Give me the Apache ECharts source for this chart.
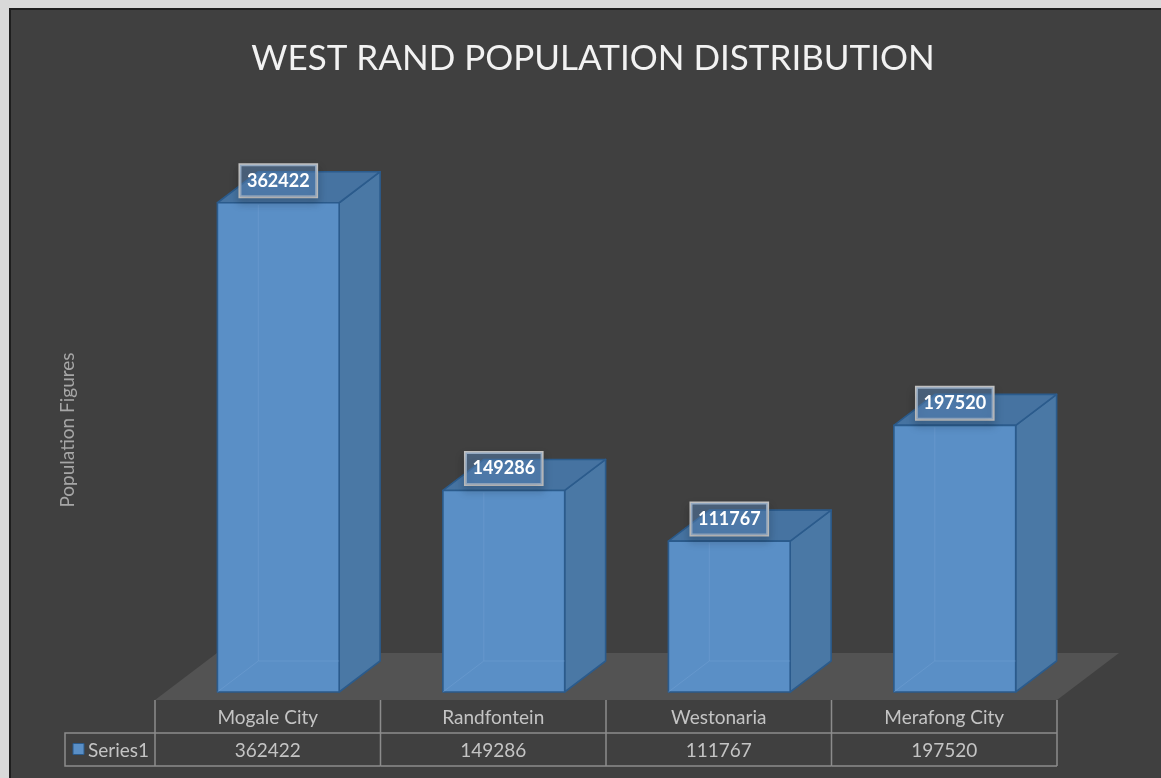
<!DOCTYPE html>
<html>
<head>
<meta charset="utf-8">
<script src="https://cdn.jsdelivr.net/npm/echarts@6/dist/echarts.min.js"></script>
<style>
  html, body { margin: 0; padding: 0; background: #d9d9d9; }
  #chart { width: 1161px; height: 778px; }
</style>
</head>
<body>
<div id="chart"></div>
<script>
// ---- data ----
const categories = ['Mogale City', 'Randfontein', 'Westonaria', 'Merafong City'];
const population = [362422, 149286, 111767, 197520];
const seriesName = 'Series1';
const chartTitle = 'WEST RAND POPULATION DISTRIBUTION';
const axisTitle = 'Population Figures';

// ---- 3D look ----
const DEPTH = { dx: 62, dy: -47 };      // floor depth vector (px)
const COL_FRONT = 0.17, COL_BACK = 0.83; // column placement inside the floor depth
const BAR_RATIO = 0.54;                  // column width / category band
const ROW_H = 33;                        // data table row height
const LEGEND_W = 90;                     // legend key column width

const FONT = 'Lato, "Open Sans", sans-serif';
const COLORS = {
  front: '#5a8fc6',
  side: '#4a78a5',
  top: '#4673a1',
  edge: '#2b5b8c',
  hidden: 'rgba(120,165,215,0.4)',
  floor: '#535353',
  grid: '#8c8c8c',
  text: '#c4c4c4'
};

const chart = echarts.init(document.getElementById('chart'));

function renderFloor(params, api) {
  const cs = params.coordSys;
  const y0 = cs.y + cs.height;
  return {
    type: 'polygon',
    shape: { points: [
      [cs.x, y0], [cs.x + cs.width, y0],
      [cs.x + cs.width + DEPTH.dx, y0 + DEPTH.dy], [cs.x + DEPTH.dx, y0 + DEPTH.dy]
    ] },
    style: { fill: COLORS.floor }
  };
}

function renderColumn(params, api) {
  const i = api.value(0);
  const v = api.value(1);
  const base = api.coord([i, 0]);
  const top = api.coord([i, v]);
  const band = api.size([1, 0])[0];
  const w = band * BAR_RATIO;
  const fx = DEPTH.dx * COL_FRONT, fy = DEPTH.dy * COL_FRONT;
  const dx = DEPTH.dx * (COL_BACK - COL_FRONT), dy = DEPTH.dy * (COL_BACK - COL_FRONT);
  const xl = base[0] - w / 2 + fx, xr = base[0] + w / 2 + fx;
  const yb = base[1] + fy, yt = top[1] + fy;
  const edge = { stroke: COLORS.edge, lineWidth: 1.6, lineJoin: 'round' };
  return {
    type: 'group',
    children: [
      { type: 'polygon', shape: { points: [[xr, yt], [xr + dx, yt + dy], [xr + dx, yb + dy], [xr, yb]] },
        style: Object.assign({ fill: COLORS.side }, edge) },
      { type: 'polygon', shape: { points: [[xl, yt], [xr, yt], [xr + dx, yt + dy], [xl + dx, yt + dy]] },
        style: Object.assign({ fill: COLORS.top }, edge) },
      { type: 'rect', shape: { x: xl, y: yt, width: w, height: yb - yt },
        style: Object.assign({ fill: COLORS.front }, edge) },
      // edges seen through the translucent column
      { type: 'polyline', shape: { points: [[xl, yb], [xl + dx, yb + dy], [xr, yb + dy]] },
        style: { stroke: COLORS.hidden, lineWidth: 1, fill: null } },
      { type: 'line', shape: { x1: xl + dx, y1: yb + dy, x2: xl + dx, y2: yt + 2 },
        style: { stroke: COLORS.hidden, lineWidth: 1 } },
      { type: 'text',
        style: {
          x: (xl + xr) / 2, y: yt - 22,
          text: String(v),
          align: 'center', verticalAlign: 'middle',
          font: 'bold 18px ' + FONT,
          fill: '#ffffff',
          backgroundColor: 'rgba(95,145,200,0.45)',
          borderColor: '#c2c2c2', borderWidth: 1.5,
          padding: [8, 7, 6, 7],
          shadowBlur: 8, shadowColor: 'rgba(0,0,0,0.25)', shadowOffsetY: 5
        } }
    ]
  };
}

function renderTable(params, api) {
  const cs = params.coordSys;
  const i = api.value(0);
  const v = api.value(1);
  const band = api.size([1, 0])[0];
  const x0 = cs.x + i * band, x1 = x0 + band;
  const y0 = cs.y + cs.height, y1 = y0 + ROW_H, y2 = y0 + 2 * ROW_H;
  const line = { stroke: COLORS.grid, lineWidth: 1.5 };
  const font = '19px ' + FONT;
  const children = [
    { type: 'line', shape: { x1: x0, y1: y0, x2: x0, y2: y2 }, style: line },
    { type: 'line', shape: { x1: x0, y1: y1, x2: x1, y2: y1 }, style: line },
    { type: 'line', shape: { x1: x0, y1: y2, x2: x1, y2: y2 }, style: line },
    { type: 'text', style: { x: (x0 + x1) / 2, y: (y0 + y1) / 2 + 1, text: categories[i],
        align: 'center', verticalAlign: 'middle', font: font, fill: COLORS.text } },
    { type: 'text', style: { x: (x0 + x1) / 2, y: (y1 + y2) / 2 + 1, text: String(v),
        align: 'center', verticalAlign: 'middle', font: font, fill: COLORS.text } }
  ];
  if (i === categories.length - 1) {
    children.push({ type: 'line', shape: { x1: x1, y1: y0, x2: x1, y2: y2 }, style: line });
  }
  if (i === 0) {
    const lx = x0 - LEGEND_W;
    children.push(
      { type: 'polyline', shape: { points: [[x0, y1], [lx, y1], [lx, y2], [x0, y2]] }, style: Object.assign({ fill: null }, line) },
      { type: 'rect', shape: { x: lx + 8, y: (y1 + y2) / 2 - 6, width: 11, height: 11 },
        style: { fill: COLORS.front, stroke: COLORS.edge, lineWidth: 1 } },
      { type: 'text', style: { x: lx + 23, y: (y1 + y2) / 2 + 1, text: seriesName,
          align: 'left', verticalAlign: 'middle', font: font, fill: COLORS.text } }
    );
  }
  return { type: 'group', children: children };
}

const columnData = categories.map((c, i) => [i, population[i]]);

chart.setOption({
  backgroundColor: '#d9d9d9',
  animation: false,
  graphic: [{
    type: 'rect', z: -10, silent: true,
    shape: { x: 10, y: 9, width: 1170, height: 790 },
    style: { fill: '#404040', stroke: '#1e1e1e', lineWidth: 2 }
  }],
  title: {
    text: chartTitle,
    left: 588,
    textAlign: 'center',
    top: 36,
    textStyle: { fontFamily: FONT, fontSize: 35, fontWeight: 'normal', color: '#f2f2f2' }
  },
  grid: { left: 155, right: 104, top: 160, bottom: 78 },
  xAxis: {
    type: 'category',
    data: categories,
    show: false
  },
  yAxis: {
    type: 'value',
    min: 0, max: 400000,
    name: axisTitle,
    nameLocation: 'middle',
    nameRotate: 90,
    nameGap: 78,
    nameTextStyle: { fontFamily: FONT, fontSize: 19, color: '#a6a6a6' },
    axisLine: { show: false },
    axisTick: { show: false },
    axisLabel: { show: false },
    splitLine: { show: false }
  },
  series: [
    { type: 'custom', name: 'floor', z: 1, silent: true, data: [[0, 0]],
      encode: { x: 0, y: 1 }, renderItem: renderFloor },
    { type: 'custom', name: seriesName, z: 3, data: columnData,
      encode: { x: 0, y: 1 }, renderItem: renderColumn },
    { type: 'custom', name: 'table', z: 2, silent: true, data: columnData,
      encode: { x: 0, y: 1 }, renderItem: renderTable }
  ]
});
</script>
</body>
</html>
